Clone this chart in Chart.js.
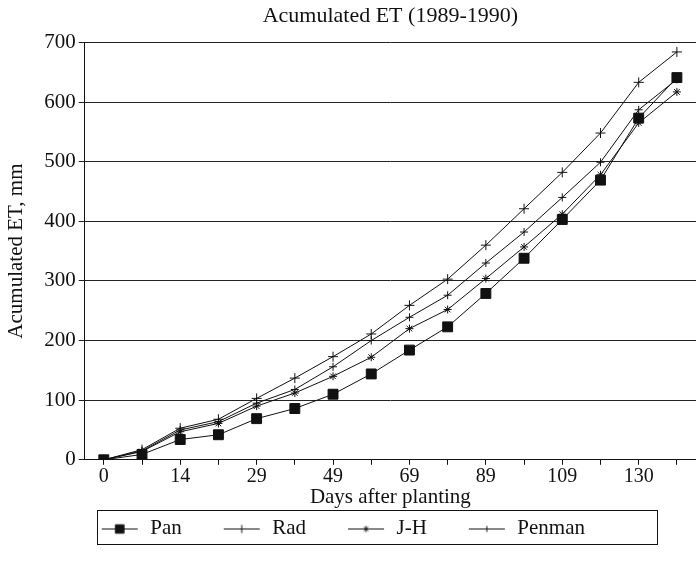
<!DOCTYPE html>
<html>
<head>
<meta charset="utf-8">
<script src="https://cdn.jsdelivr.net/npm/chart.js@4.4.1/dist/chart.umd.min.js"></script>
<style>
  html, body { margin: 0; padding: 0; background: #fff; overflow: hidden; }
  #wrap { width: 704px; height: 574px; }
</style>
</head>
<body>
<div id="wrap"><canvas id="myChart"></canvas></div>
<script>
// Días después de la siembra (solo se rotulan los pares)
const days = ['0', '7', '14', '21', '29', '39', '49', '59', '69', '79', '89', '99', '109', '119', '130', '140'];

// ET acumulada, mm
const pan    = [0, 9, 34, 42, 69, 86, 110, 144, 184, 223, 279, 338, 403, 469, 573, 641];
const rad    = [0, 17, 53, 68, 103, 137, 173, 211, 259, 303, 360, 421, 482, 548, 633, 684];
const jh     = [0, 14, 47, 61, 90, 112, 140, 172, 220, 252, 304, 357, 412, 478, 565, 617];
const penman = [0, 15, 50, 64, 95, 118, 156, 200, 239, 276, 330, 382, 440, 499, 587, 638];

const yTicks = [0, 100, 200, 300, 400, 500, 600, 700];

Chart.defaults.font.family = '"Liberation Serif", "Times New Roman", serif';
Chart.defaults.color = '#111';

const ICON_W = 72;   // ancho del icono de la leyenda
const ICON_GAP = 34; // espacio en blanco a la izquierda de la línea

// Icono de leyenda: línea con marcador al centro
function legendIcon(style, r) {
    const c = document.createElement('canvas');
    c.width = ICON_W;
    c.height = 16;
    const g = c.getContext('2d');
    g.strokeStyle = '#111';
    g.fillStyle = '#111';
    g.lineWidth = 1;
    g.beginPath();
    g.moveTo(ICON_GAP, 8.5);
    g.lineTo(ICON_GAP + 36, 8.5);
    g.stroke();
    Chart.helpers.drawPoint(g, { pointStyle: style, radius: r, borderWidth: 1 }, ICON_GAP + 18, 8.5);
    return c;
}

// Desplaza la leyenda a la izquierda
const legendShift = {
    id: 'legendShift',
    afterLayout(chart) {
        chart.legend.left -= 25;
        chart.legend.right -= 25;
    }
};

// Recuadro alrededor de la leyenda
const legendBox = {
    id: 'legendBox',
    afterDraw(chart) {
        const boxes = chart.legend.legendHitBoxes;
        if (!boxes || !boxes.length) return;
        const last = boxes[boxes.length - 1];
        const left = Math.round(boxes[0].left + ICON_GAP - 5);
        const right = Math.round(last.left + last.width + 72);
        const top = Math.round(boxes[0].top - 8);
        const bottom = Math.round(boxes[0].top + boxes[0].height + 5);
        const ctx = chart.ctx;
        ctx.save();
        ctx.strokeStyle = '#111';
        ctx.lineWidth = 1;
        ctx.strokeRect(left + 0.5, top + 0.5, right - left, bottom - top);
        ctx.restore();
    }
};

function serie(label, data, style, r) {
    return {
        label: label,
        data: data,
        borderColor: '#111',
        backgroundColor: '#111',
        borderWidth: 1,
        pointStyle: style,
        pointRadius: r,
        pointBorderWidth: 1,
        pointBorderColor: '#111',
        pointBackgroundColor: '#111',
        tension: 0,
        fill: false
    };
}

const ctx = document.getElementById('myChart').getContext('2d');

new Chart(ctx, {
    type: 'line',
    data: {
        labels: days,
        datasets: [
            serie('Pan', pan, 'rect', 7),
            serie('Rad', rad, 'cross', 5),
            serie('J-H', jh, 'star', 4),
            serie('Penman', penman, 'cross', 4)
        ]
    },
    options: {
        responsive: true,
        maintainAspectRatio: false,
        animation: false,
        layout: { padding: { left: 4, right: 1, top: 3, bottom: 25 } },
        plugins: {
            title: {
                display: true,
                text: 'Acumulated ET (1989-1990)',
                fullSize: false,
                font: { size: 22, weight: 'normal' },
                color: '#111',
                padding: { top: 0, bottom: 13 }
            },
            legend: {
                position: 'bottom',
                fullSize: false,
                align: 'start',
                labels: {
                    usePointStyle: true,
                    pointStyleWidth: ICON_W,
                    font: { size: 21 },
                    color: '#111',
                    padding: 8,
                    generateLabels(chart) {
                        const icons = [['rect', 6], ['cross', 4], ['star', 3], ['cross', 3]];
                        return chart.data.datasets.map((d, i) => ({
                            text: d.label,
                            pointStyle: legendIcon(icons[i][0], icons[i][1]),
                            fillStyle: '#111',
                            strokeStyle: '#111',
                            lineWidth: 0,
                            fontColor: '#111',
                            hidden: false,
                            datasetIndex: i
                        }));
                    }
                }
            },
            tooltip: { enabled: false }
        },
        scales: {
            x: {
                type: 'category',
                offset: true,
                border: { display: true, color: '#111', width: 1 },
                grid: { display: true, drawOnChartArea: false, drawTicks: true, tickLength: 5, color: '#111' },
                ticks: {
                    autoSkip: false,
                    maxRotation: 0,
                    padding: 0,
                    font: { size: 20 },
                    color: '#111',
                    callback: (v, i) => (i % 2 === 0 ? days[i] : '')
                },
                title: {
                    display: true,
                    text: 'Days after planting',
                    font: { size: 21 },
                    color: '#111',
                    padding: { top: -4, bottom: 0 }
                }
            },
            y: {
                min: 0,
                max: 700,
                afterBuildTicks: axis => { axis.ticks = yTicks.map(v => ({ value: v })); },
                border: { display: true, color: '#111', width: 1 },
                grid: { color: '#222', lineWidth: 1, tickLength: 6 },
                ticks: {
                    font: { size: 21 },
                    color: '#111',
                    padding: 3
                },
                title: {
                    display: true,
                    text: 'Acumulated ET, mm',
                    font: { size: 21 },
                    color: '#111',
                    padding: { top: 0, bottom: 12 }
                }
            }
        }
    },
    plugins: [legendShift, legendBox]
});
</script>
</body>
</html>
